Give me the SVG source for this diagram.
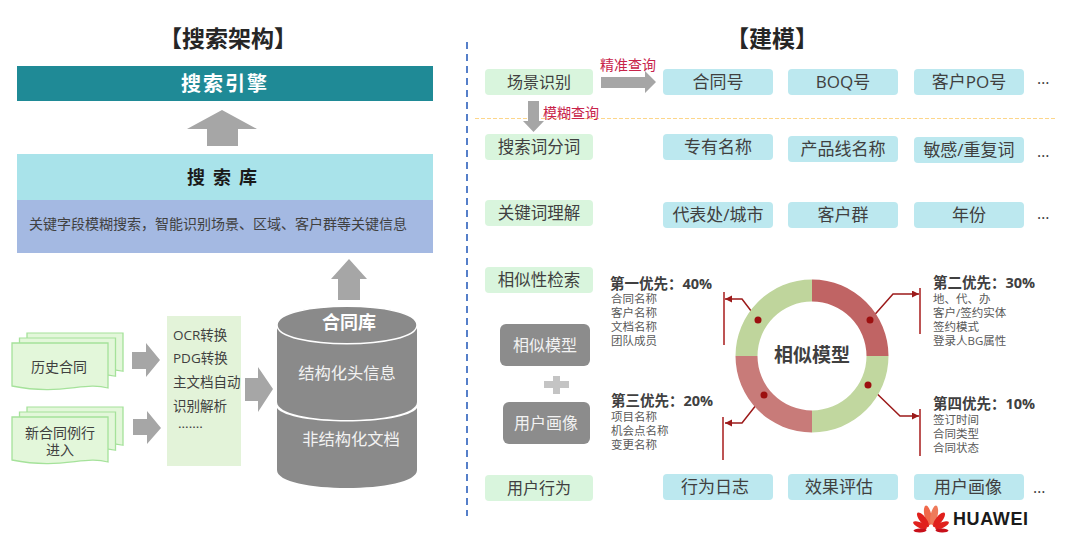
<svg xmlns="http://www.w3.org/2000/svg" width="1080" height="537" viewBox="0 0 1080 537">
<style>
text{font-family:"Open Sans","Noto Sans CJK SC",sans-serif;fill:#404040}
.m{text-anchor:middle}
.t{font-size:23px;font-weight:700;fill:#262626}
.l{font-size:16px}
.w{fill:#fff}
.g{fill:#d9f5dd}
.b{fill:#bce8ef}
.a{fill:#a6a6a6}
.h{font-size:14.500px;font-weight:700}
.s{font-size:11.500px;fill:#595959}
.r{font-size:14px;fill:#c8234a}
.d{fill:#e3f7da;stroke:#a5e29a;stroke-width:1.3}
.e{fill:none;stroke:#9c1a1a;stroke-width:1.5}
.v{stroke:#a81c1c;stroke-width:1.5}
.o{font-size:13.500px;fill:#404040}
.p{font-size:17px}
.x{font-size:16px}
</style>
<defs>
<marker id="ah" markerWidth="8" markerHeight="8" refX="7" refY="3.5" orient="auto" markerUnits="userSpaceOnUse"><path d="M0 0L7 3.5L0 7Z" fill="#9c1a1a"/></marker>
<path id="doc" d="M0 0H96V45C72 38 50 53 0 43Z" class="d"/>
</defs>
<rect width="1080" height="537" fill="#fff"/>
<text class="t m" x="228" y="47">【搜索架构】</text>
<text class="t m" x="772" y="47">【建模】</text>

<g id="connectors">
<path d="M467 42V516" stroke="#4472c4" stroke-width="1.8" stroke-dasharray="7 5" fill="none"/>
<path d="M475 118.500H1056" stroke="#fdd68a" stroke-width="1.2" stroke-dasharray="4 2" fill="none"/>
<path class="a" d="M207 146V129H187L222 110L257 129H238V146Z"/>
<path class="a" d="M338 300V279H331L349 259L367 279H360V300Z"/>
<path class="a" d="M132 352H146V343L160 360L146 377V369H132Z"/>
<path class="a" d="M133 419H147V411L161 428L147 444V435H133Z"/>
<path class="a" d="M245 378H258V367L273 389L258 412V401H245Z"/>
<path class="a" d="M601 77H645V71L656 82L645 93V88H601Z"/>
<path class="a" d="M528 101H539V121H544L533.500 132L523 121H528Z"/>
<path fill="#c4c4c4" d="M553 376H560V381H569V388H560V394H553V388H544V381H553Z"/>
<path class="e" marker-end="url(#ah)" d="M758 320L742 299H725"/>
<path class="e" marker-end="url(#ah)" d="M870 320L893 294H919"/>
<path class="e" marker-end="url(#ah)" d="M868 385L900 416H919"/>
<path class="e" marker-end="url(#ah)" d="M764 395L742 423H725"/>
<path class="v" d="M724 292V345M920 288V334M920 409V456M723 417V460"/>
</g>

<g id="engine"><rect x="17" y="66" width="416" height="35" fill="#1f8a96"/><text class="w m" x="225" y="91" font-size="20" font-weight="700" letter-spacing="2" style="fill:#fff">搜索引擎</text></g>
<g id="library"><rect x="17" y="154" width="416" height="46" fill="#a9e3ea"/><text class="m" x="226" y="184" font-size="18" font-weight="700" letter-spacing="8" style="fill:#1a1a1a">搜索库</text></g>
<g id="search-desc"><rect x="17" y="200" width="416" height="53" fill="#a4b9e2"/><text x="29" y="229" font-size="14">关键字段模糊搜索，智能识别场景、区域、客户群等关键信息</text></g>

<g id="doc-history">
<use href="#doc" transform="translate(27 333) scale(1 .85)"/>
<use href="#doc" transform="translate(19.500 338) scale(1 .85)"/>
<use href="#doc" x="12" y="343"/>
<text class="m" x="59" y="372" font-size="14">历史合同</text>
</g>
<g id="doc-new">
<use href="#doc" transform="translate(27 407) scale(1 .85)"/>
<use href="#doc" transform="translate(19.500 412) scale(1 .85)"/>
<use href="#doc" x="12" y="417"/>
<text class="m" x="60" y="438" font-size="14">新合同例行</text>
<text class="m" x="60" y="455" font-size="14">进入</text>
</g>
<g id="process">
<rect x="167" y="316" width="74" height="150" fill="#e3f3d9"/>
<text class="o" x="173" y="340">OCR转换</text>
<text class="o" x="173" y="363">PDG转换</text>
<text class="o" x="173" y="387">主文档自动</text>
<text class="o" x="173" y="411">识别解析</text>
<text class="o" x="178" y="432">·······</text>
</g>
<g id="database">
<path fill="#8a8a8a" d="M277 402V325H417V402C417 426 277 426 277 402Z"/>
<path fill="#8a8a8a" d="M277 408C290 426 404 426 417 408V470C417 494 277 494 277 470Z"/>
<path fill="#8a8a8a" stroke="#fff" stroke-width="1.5" d="M277 325C277 300 417 300 417 325C417 350 277 350 277 325Z"/>
<text class="m w" x="349" y="329" font-size="18" font-weight="700" style="fill:#fff">合同库</text>
<text class="m" x="347" y="379" font-size="16.300" style="fill:#f2f2f2">结构化头信息</text>
<text class="m" x="351" y="445" font-size="16.300" style="fill:#f2f2f2">非结构化文档</text>
</g>

<g id="row1">
<rect class="g" x="485" y="69" width="108" height="26" rx="4"/><text class="l m" x="539" y="88">场景识别</text>
<rect class="b" x="663" y="69" width="110" height="26" rx="4"/><text class="p m" x="718" y="88">合同号</text>
<rect class="b" x="788" y="69" width="110" height="26" rx="4"/><text class="p m" x="843" y="88">BOQ号</text>
<rect class="b" x="914" y="69" width="110" height="26" rx="4"/><text class="p m" x="969" y="88">客户PO号</text>
<text class="x" x="1037" y="84">…</text>
<text class="r" x="600" y="70">精准查询</text>
<text class="r" x="543" y="118">模糊查询</text>
</g>
<g id="row2">
<rect class="g" x="485" y="134" width="108" height="26" rx="4"/><text class="l m" x="539" y="153" style="font-size:16.500px">搜索词分词</text>
<rect class="b" x="663" y="134" width="110" height="26" rx="4"/><text class="p m" x="718" y="153">专有名称</text>
<rect class="b" x="788" y="136" width="110" height="26" rx="4"/><text class="p m" x="843" y="155">产品线名称</text>
<rect class="b" x="914" y="137" width="110" height="26" rx="4"/><text class="p m" x="969" y="156">敏感/重复词</text>
<text class="x" x="1037" y="157">…</text>
</g>
<g id="row3">
<rect class="g" x="485" y="200" width="108" height="26" rx="4"/><text class="l m" x="539" y="219" style="font-size:16.500px">关键词理解</text>
<rect class="b" x="663" y="202" width="110" height="26" rx="4"/><text class="p m" x="718" y="221">代表处/城市</text>
<rect class="b" x="788" y="202" width="110" height="26" rx="4"/><text class="p m" x="843" y="221">客户群</text>
<rect class="b" x="914" y="202" width="110" height="26" rx="4"/><text class="p m" x="969" y="221">年份</text>
<text class="x" x="1037" y="219">…</text>
</g>
<g id="row4">
<rect class="g" x="485" y="267" width="108" height="26" rx="4"/><text class="l m" x="539" y="286" style="font-size:16.500px">相似性检索</text>
</g>
<g id="model-box"><rect x="500" y="324" width="90" height="42" rx="6" fill="#8c8c8c"/><text class="l m" x="545" y="351" style="fill:#f2f2f2">相似模型</text></g>
<g id="user-box"><rect x="503" y="402" width="87" height="42" rx="6" fill="#8c8c8c"/><text class="l m" x="546" y="429" style="fill:#f2f2f2">用户画像</text></g>
<g id="row5">
<rect class="g" x="485" y="475" width="108" height="26" rx="4"/><text class="l m" x="539" y="494">用户行为</text>
<rect class="b" x="663" y="474" width="110" height="26" rx="4"/><text class="p m" x="715" y="493">行为日志</text>
<rect class="b" x="788" y="474" width="110" height="26" rx="4"/><text class="p m" x="839" y="493">效果评估</text>
<rect class="b" x="914" y="474" width="110" height="26" rx="4"/><text class="p m" x="968" y="493">用户画像</text>
<text class="x" x="1033" y="493">…</text>
</g>

<g id="donut">
<path fill="#c06464" d="M812 279.500A76.500 76.500 0 0 1 888.500 356H866.500A54.500 54.500 0 0 0 812 301.500Z"/>
<path fill="#c1d79f" d="M888.500 356A76.500 76.500 0 0 1 812 432.500V410.500A54.500 54.500 0 0 0 866.500 356Z"/>
<path fill="#c87b79" d="M812 432.500A76.500 76.500 0 0 1 735.500 356H757.500A54.500 54.500 0 0 0 812 410.500Z"/>
<path fill="#bfd59c" d="M735.500 356A76.500 76.500 0 0 1 812 279.500V301.500A54.500 54.500 0 0 0 757.500 356Z"/>
<text class="m" x="812" y="362" font-size="19" font-weight="700">相似模型</text>
<g fill="#9c0f0f"><circle cx="758" cy="320" r="3.500"/><circle cx="870" cy="320" r="3.500"/><circle cx="868" cy="385" r="3.500"/><circle cx="764" cy="395" r="3.500"/></g>
</g>
<g id="p1"><text class="h" x="610" y="289">第一优先：40%</text><text class="s" x="611" y="303">合同名称</text><text class="s" x="611" y="317">客户名称</text><text class="s" x="611" y="331">文档名称</text><text class="s" x="611" y="345">团队成员</text></g>
<g id="p2"><text class="h" x="933" y="288">第二优先：30%</text><text class="s" x="933" y="303">地、代、办</text><text class="s" x="933" y="317">客户/签约实体</text><text class="s" x="933" y="331">签约模式</text><text class="s" x="933" y="345">登录人BG属性</text></g>
<g id="p3"><text class="h" x="611" y="406">第三优先：20%</text><text class="s" x="611" y="421">项目名称</text><text class="s" x="611" y="435">机会点名称</text><text class="s" x="611" y="449">变更名称</text></g>
<g id="p4"><text class="h" x="933" y="409">第四优先：10%</text><text class="s" x="933" y="424">签订时间</text><text class="s" x="933" y="438">合同类型</text><text class="s" x="933" y="452">合同状态</text></g>

<g id="logo">
<g transform="translate(931 530)" fill="#e0201c">
<ellipse cx="0" cy="-15" rx="3.500" ry="10" transform="rotate(-12)" fill="#f0684a"/>
<ellipse cx="0" cy="-15" rx="3.500" ry="10" transform="rotate(12)" fill="#ee7a5a"/>
<ellipse cx="0" cy="-13" rx="3.200" ry="9" transform="rotate(-38)"/>
<ellipse cx="0" cy="-13" rx="3.200" ry="9" transform="rotate(38)"/>
<ellipse cx="0" cy="-12" rx="2.800" ry="7.500" transform="rotate(-66)"/>
<ellipse cx="0" cy="-12" rx="2.800" ry="7.500" transform="rotate(66)"/>
<ellipse cx="0" cy="-11" rx="2" ry="6.500" transform="rotate(-92)" fill="#c8101a"/>
<ellipse cx="0" cy="-11" rx="2" ry="6.500" transform="rotate(92)" fill="#c8101a"/>
</g>
<text x="953" y="525" font-size="18" font-weight="700" style="fill:#1a1a1a;font-family:'Liberation Sans',sans-serif" letter-spacing=".6">HUAWEI</text>
</g>
</svg>
